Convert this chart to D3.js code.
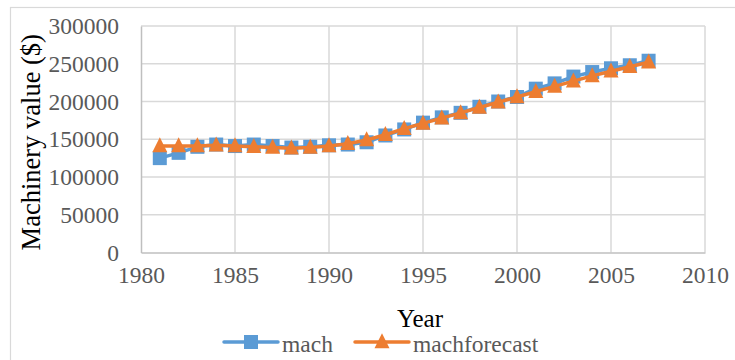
<!DOCTYPE html>
<html>
<head>
<meta charset="utf-8">
<script src="https://cdn.jsdelivr.net/npm/d3@7"></script>
<style>
  html, body { margin: 0; padding: 0; background: #fff; }
  svg { display: block; }
  svg text { font-family: "Liberation Serif", "Times New Roman", serif; }
</style>
</head>
<body>
<svg id="chart" width="735" height="360" font-family="Liberation Serif"></svg>
<script>
// Data
const years = [1981, 1982, 1983, 1984, 1985, 1986, 1987, 1988, 1989, 1990,
  1991, 1992, 1993, 1994, 1995, 1996, 1997, 1998, 1999, 2000,
  2001, 2002, 2003, 2004, 2005, 2006, 2007];
const mach = [125000, 132000, 140000, 143000, 141000, 143000, 141000, 139000, 140000, 142000,
  143000, 146000, 155000, 163000, 172000, 179000, 185000, 193000, 200000, 206000,
  217000, 224000, 233000, 239000, 244000, 248000, 254000];
const machForecast = [141000, 141000, 141000, 142000, 141000, 140000, 139000, 138000, 139000, 141000,
  144000, 149000, 156000, 164000, 171000, 178000, 185000, 192000, 199000, 206000,
  213000, 220000, 227000, 234000, 240000, 246000, 252000];
const xTicks = [1980, 1985, 1990, 1995, 2000, 2005, 2010];
const yTicks = [0, 50000, 100000, 150000, 200000, 250000, 300000];
const seriesNames = ['mach', 'machforecast'];

const blue = '#5b9bd5', orange = '#ed7d31';

const svg = d3.select('#chart');

// outer chart-area border
svg.append('rect')
  .attr('x', 10.5).attr('y', 7.5)
  .attr('width', 800).attr('height', 400)
  .attr('fill', 'none').attr('stroke', '#d9d9d9').attr('stroke-width', 1.2);

const x = d3.scaleLinear().domain([1980, 2010]).range([141, 705]);
const y = d3.scaleLinear().domain([0, 300000]).range([252.5, 26]);

// gridlines
svg.append('g').selectAll('line.h')
  .data(yTicks.slice(1)).enter().append('line')
  .attr('x1', x(1980)).attr('x2', x(2010))
  .attr('y1', d => y(d)).attr('y2', d => y(d))
  .attr('stroke', '#d9d9d9').attr('stroke-width', 1.5);

svg.append('g').selectAll('line.v')
  .data(xTicks.slice(1)).enter().append('line')
  .attr('x1', d => x(d)).attr('x2', d => x(d))
  .attr('y1', y(0)).attr('y2', y(300000))
  .attr('stroke', '#d9d9d9').attr('stroke-width', 1.5);

// axes (d3 puts font-family="sans-serif" on the group, drop it)
const xAxis = svg.append('g')
  .attr('transform', `translate(0,${y(0)})`)
  .call(d3.axisBottom(x).tickValues(xTicks).tickFormat(d3.format('d')).tickSize(0).tickPadding(14))
  .attr('font-family', null).attr('font-size', null);
xAxis.select('.domain').attr('stroke', '#bfbfbf').attr('stroke-width', 1.5);
xAxis.selectAll('text').attr('fill', '#595959').style('font-size', '23.5px');

const yAxis = svg.append('g')
  .attr('transform', `translate(${x(1980)},0)`)
  .call(d3.axisLeft(y).tickValues(yTicks).tickFormat(d3.format('d')).tickSize(0).tickPadding(22))
  .attr('font-family', null).attr('font-size', null);
yAxis.select('.domain').attr('stroke', '#bfbfbf').attr('stroke-width', 1.5);
yAxis.selectAll('text').attr('fill', '#595959').style('font-size', '23.5px');

// axis titles
svg.append('text')
  .attr('transform', `translate(40,${(y(0) + y(300000)) / 2 + 3}) rotate(-90)`)
  .attr('text-anchor', 'middle')
  .style('font-size', '26.5px').attr('fill', '#000')
  .text('Machinery value ($)');

svg.append('text')
  .attr('x', 420).attr('y', 327)
  .attr('text-anchor', 'middle')
  .style('font-size', '25px').attr('fill', '#000')
  .text('Year');

// markers
const square = s => `M${-s / 2},${-s / 2}h${s}v${s}h${-s}Z`;
const triangle = s => `M0,${-s * 0.58}L${s / 2},${s * 0.42}L${-s / 2},${s * 0.42}Z`;

const line = d3.line().x(d => x(d[0])).y(d => y(d[1]));

function drawSeries(values, color, marker) {
  const pts = years.map((yr, i) => [yr, values[i]]);
  const g = svg.append('g');
  g.append('path').datum(pts)
    .attr('d', line)
    .attr('fill', 'none').attr('stroke', color)
    .attr('stroke-width', 3.5).attr('stroke-linejoin', 'round').attr('stroke-linecap', 'round');
  g.selectAll('path.m').data(pts).enter().append('path')
    .attr('class', 'm')
    .attr('transform', d => `translate(${x(d[0])},${y(d[1])})`)
    .attr('d', marker)
    .attr('fill', color);
}

drawSeries(mach, blue, square(14));
drawSeries(machForecast, orange, triangle(15));

// legend
const legend = [
  { name: seriesNames[0], color: blue, marker: square(14), x0: 224 },
  { name: seriesNames[1], color: orange, marker: triangle(15), x0: 355 }
];
const lg = svg.append('g').selectAll('g').data(legend).enter().append('g')
  .attr('transform', d => `translate(${d.x0},342)`);
lg.append('line')
  .attr('x1', 0).attr('x2', 54).attr('y1', 0).attr('y2', 0)
  .attr('stroke', d => d.color).attr('stroke-width', 3.5).attr('stroke-linecap', 'round');
lg.append('path')
  .attr('transform', 'translate(27,0)')
  .attr('d', d => d.marker).attr('fill', d => d.color);
lg.append('text')
  .attr('x', 58).attr('y', 9.5)
  .style('font-size', '23.5px').attr('fill', '#595959')
  .text(d => d.name);
</script>
</body>
</html>
